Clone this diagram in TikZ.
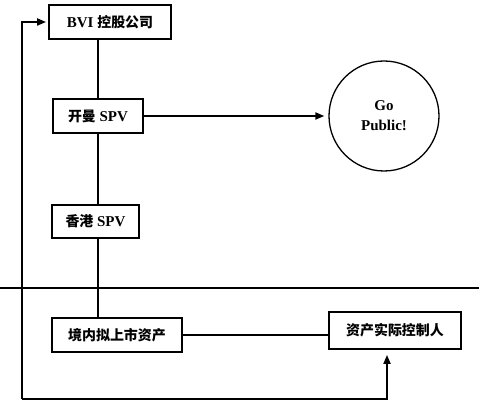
\documentclass[tikz,border=0pt]{standalone}
\usepackage{fontspec}
\setmainfont{Liberation Serif}
\newfontfamily\cjk{Noto Sans CJK SC}[Scale=0.93]
\usetikzlibrary{arrows.meta}
\begin{document}
\begin{tikzpicture}[x=1pt,y=-1pt,line width=1.8pt,
                    >={Triangle[length=9pt,width=7pt]},
                    box/.style={draw,rectangle,inner sep=0pt,
                                font=\bfseries\fontsize{15}{17}\selectfont}
                   ]
    \useasboundingbox (0,0) rectangle (479,414);

    \node[box,minimum width=122pt,minimum height=34pt](bvi) at (110,22){BVI {\cjk 控股公司}};
    \node[box,minimum width=90pt,minimum height=34pt](ky) at (98,116){{\cjk 开曼} SPV};
    \node[box,minimum width=87pt,minimum height=33pt](hk) at (95.5,221.5){{\cjk 香港} SPV};
    \node[box,minimum width=130pt,minimum height=34pt](asset) at (117,335){\cjk 境内拟上市资产};
    \node[box,minimum width=132pt,minimum height=37pt](ctrl) at (395,330.5){\cjk 资产实际控制人};
    \node[circle,draw,line width=1.3pt,minimum size=110pt,inner sep=0pt,align=center,
          font=\bfseries\fontsize{15}{20}\selectfont](ipo) at (384,116){Go\\Public!};

    \coordinate (c0) at (22,399);
    \coordinate (l0) at (0,288);
    \coordinate (r0) at (479,288);

    \draw (bvi.south -| ky) -- (ky.north);
    \draw (ky.south) -- (ky.south |- hk.north);
    \draw (hk.south -| ky) -- (ky |- asset.north);
    \draw[->,shorten >=4pt] (ky.east) -- (ipo.west);
    \draw (asset.east) -- (asset.east -| ctrl.west);
    \draw[->,shorten >=2pt] (c0) |- (bvi.west);
    \draw[->,shorten >=5pt] (c0) -| ([xshift=-8pt]ctrl.south);
    \draw (l0) -- (r0);

\end{tikzpicture}
\end{document}
